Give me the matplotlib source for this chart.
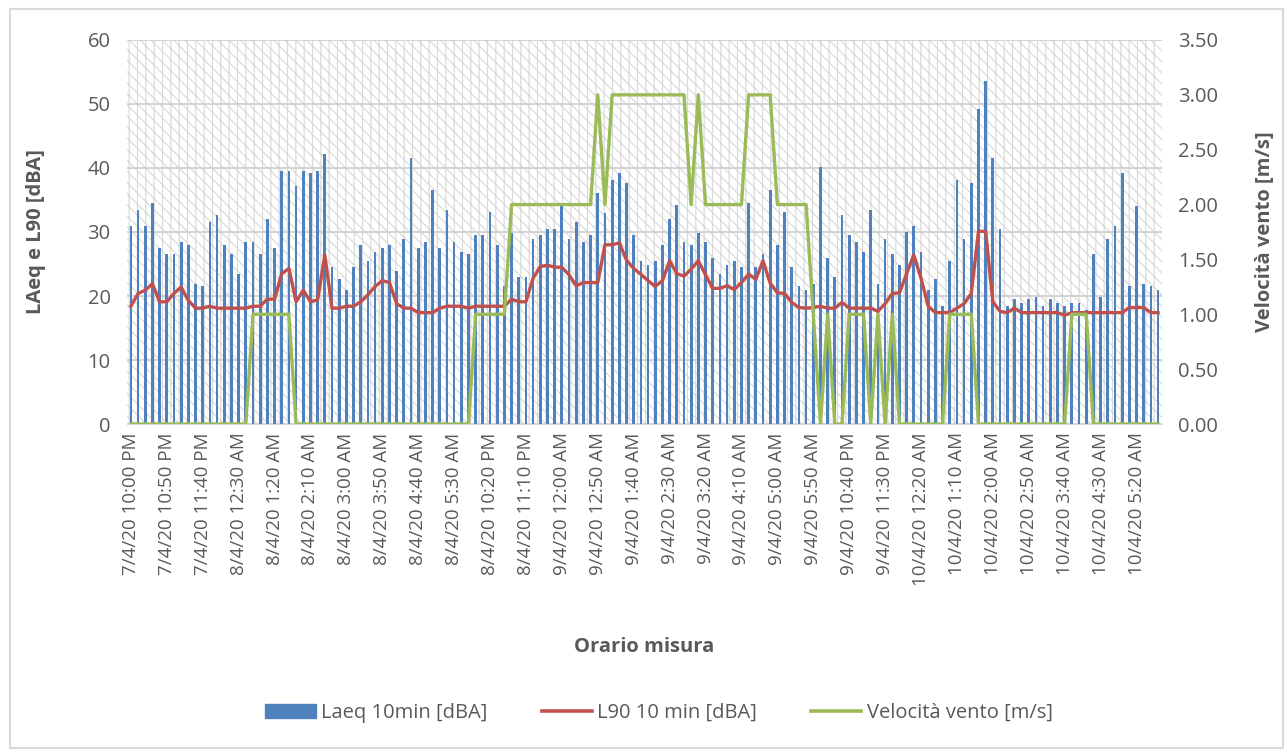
import matplotlib
matplotlib.use('Agg')
import numpy as np
import matplotlib.pyplot as plt
from matplotlib.patches import Rectangle, Patch
from matplotlib.lines import Line2D

# Laeq 10 min [dBA], one value every 10 minutes, three nights (22:00 - 05:50)
laeq = [30.9, 33.5, 30.9, 34.5, 27.5, 26.6, 26.6, 28.5, 27.9, 21.9, 21.5, 31.5, 32.6, 27.9, 26.6, 23.5, 28.5, 28.5, 26.6,
        32.0, 27.5, 39.6, 39.6, 37.2, 39.6, 39.2, 39.6, 42.2, 24.5, 22.6, 20.9, 24.5, 27.9, 25.5, 26.9, 27.5, 27.9, 23.9, 28.9,
        41.6, 27.5, 28.5, 36.6, 27.5, 33.5, 28.5, 26.9, 26.6, 29.5, 29.5, 33.1, 27.9, 21.5, 29.9, 22.9, 22.9, 28.9, 29.5,
        30.5, 30.5, 34.0, 28.9, 31.5, 28.5, 29.5, 36.1, 33.0, 38.1, 39.2, 37.6, 29.5, 25.5, 24.9, 25.5, 27.9, 32.0, 34.2, 28.5,
        27.9, 29.9, 28.5, 25.9, 23.5, 24.9, 25.5, 24.5, 34.6, 24.5, 26.6, 36.6, 27.9, 33.1, 24.5, 21.6, 20.9, 21.9, 40.2,
        25.9, 22.9, 32.6, 29.5, 28.5, 26.9, 33.5, 21.9, 28.9, 26.6, 24.9, 30.0, 30.9, 26.9, 20.9, 22.6, 18.5, 25.5, 38.1, 28.9,
        37.6, 49.2, 53.6, 41.6, 30.5, 18.4, 19.5, 18.9, 19.5, 19.9, 18.4, 19.5, 18.9, 18.4, 18.9, 18.9, 17.8, 26.6, 19.9,
        28.9, 30.9, 39.2, 21.6, 34.1, 21.9, 21.5, 20.9]

# L90 10 min [dBA]
l90 = [18.4, 20.4, 20.9, 21.9, 19.1, 19.1, 20.4, 21.4, 19.3, 18.1, 18.1, 18.4, 18.1, 18.1, 18.1, 18.1, 18.1, 18.4, 18.4,
       19.5, 19.5, 23.5, 24.3, 19.1, 20.9, 19.1, 19.4, 26.4, 18.1, 18.1, 18.4, 18.4, 19.1, 20.2, 21.5, 22.4, 22.1, 18.8, 18.1,
       18.1, 17.4, 17.4, 17.4, 18.1, 18.4, 18.4, 18.4, 18.1, 18.4, 18.4, 18.4, 18.4, 18.4, 19.5, 19.1, 19.1, 22.8, 24.6,
       24.8, 24.5, 24.5, 23.3, 21.6, 22.1, 22.1, 22.1, 28.0, 28.0, 28.3, 25.6, 24.3, 23.4, 22.4, 21.5, 22.4, 25.5, 23.5, 23.1,
       24.2, 25.5, 23.3, 21.2, 21.2, 21.6, 21.0, 22.1, 23.4, 22.6, 25.5, 22.0, 20.5, 20.4, 19.0, 18.2, 18.1, 18.2, 18.4,
       18.1, 18.1, 19.0, 18.1, 18.1, 18.1, 18.1, 17.6, 18.8, 20.4, 20.5, 23.5, 26.4, 22.8, 18.4, 17.4, 17.4, 17.4, 18.1, 18.8,
       20.4, 30.1, 30.1, 19.1, 17.6, 17.4, 18.1, 17.4, 17.4, 17.4, 17.4, 17.4, 17.4, 17.0, 17.4, 17.4, 17.4, 17.4, 17.4,
       17.4, 17.4, 17.4, 18.2, 18.2, 18.2, 17.4, 17.4]

# Velocita vento [m/s]
vento = [0, 0, 0, 0, 0, 0, 0, 0, 0, 0, 0, 0, 0, 0, 0, 0, 0, 1, 1,
         1, 1, 1, 1, 0, 0, 0, 0, 0, 0, 0, 0, 0, 0, 0, 0, 0, 0, 0, 0,
         0, 0, 0, 0, 0, 0, 0, 0, 0, 1, 1, 1, 1, 1, 2, 2, 2, 2, 2,
         2, 2, 2, 2, 2, 2, 2, 3, 2, 3, 3, 3, 3, 3, 3, 3, 3, 3, 3, 3,
         2, 3, 2, 2, 2, 2, 2, 2, 3, 3, 3, 3, 2, 2, 2, 2, 2, 1, 0,
         1, 0, 0, 1, 1, 1, 0, 1, 0, 1, 0, 0, 0, 0, 0, 0, 0, 1, 1, 1,
         1, 0, 0, 0, 0, 0, 0, 0, 0, 0, 0, 0, 0, 0, 1, 1, 1, 0, 0,
         0, 0, 0, 0, 0, 0, 0, 0]

# labels shown on the category axis (every 5th sample)
tick_labels = ['7/4/20 10:00 PM', '7/4/20 10:50 PM', '7/4/20 11:40 PM', '8/4/20 12:30 AM', '8/4/20 1:20 AM',
               '8/4/20 2:10 AM', '8/4/20 3:00 AM', '8/4/20 3:50 AM', '8/4/20 4:40 AM', '8/4/20 5:30 AM',
               '8/4/20 10:20 PM', '8/4/20 11:10 PM', '9/4/20 12:00 AM', '9/4/20 12:50 AM', '9/4/20 1:40 AM',
               '9/4/20 2:30 AM', '9/4/20 3:20 AM', '9/4/20 4:10 AM', '9/4/20 5:00 AM', '9/4/20 5:50 AM',
               '9/4/20 10:40 PM', '9/4/20 11:30 PM', '10/4/20 12:20 AM', '10/4/20 1:10 AM', '10/4/20 2:00 AM',
               '10/4/20 2:50 AM', '10/4/20 3:40 AM', '10/4/20 4:30 AM', '10/4/20 5:20 AM']

blue = '#4f81bd'
red = '#c0504d'
green = '#9bbb59'
grey_txt = '#595959'

plt.rcParams['font.family'] = ['Open Sans', 'DejaVu Sans']
plt.rcParams['hatch.linewidth'] = 0.8

fig = plt.figure(figsize=(12.87, 7.53), dpi=100)
ax = fig.add_axes([0.0989, 0.4369, 0.8037, 0.51])

x = np.arange(len(laeq))

# patterned plot area like the excel one
ax.patch.set_visible(False)
bg = Rectangle((0, 0), 1, 1, transform=ax.transAxes, facecolor='white', edgecolor='#d8d8d8',
               hatch='||\\\\\\', linewidth=0, zorder=-10)
ax.add_patch(bg)

ax.bar(x, laeq, width=0.38, color=blue, zorder=2)
ax.plot(x, l90, color=red, lw=2.4, zorder=3, solid_joinstyle='round')
ax.set_xlim(-0.5, len(laeq) - 0.5)
ax.set_ylim(0, 60)
ax.set_yticks(range(0, 61, 10))
ax.grid(axis='y', color='#d0d0d0', lw=1.3, zorder=1)
ax.set_axisbelow(True)

ax.set_xticks(x[::5])
ax.set_xticklabels(tick_labels, rotation=90, fontsize=13.5, color=grey_txt)
ax.tick_params(axis='both', length=0, pad=6)
ax.tick_params(axis='y', labelsize=14.5, labelcolor=grey_txt, pad=12)
for s in ['top', 'right', 'left']:
    ax.spines[s].set_visible(False)
ax.spines['bottom'].set_color('#d9d9d9')

ax.set_ylabel('LAeq e L90 [dBA]', fontsize=14.5, fontweight='bold', color=grey_txt)
ax.yaxis.set_label_coords(-0.079, 0.5)
ax.set_xlabel('Orario misura', fontsize=14.5, fontweight='bold', color=grey_txt)
ax.xaxis.set_label_coords(0.5, -0.555)

ax2 = ax.twinx()
ax2.plot(x, vento, color=green, lw=2.4, zorder=4)
ax2.set_ylim(0, 3.5)
ax2.set_yticks(np.arange(0, 3.51, 0.5))
ax2.set_yticklabels([f'{v:.2f}' for v in np.arange(0, 3.51, 0.5)])
ax2.tick_params(axis='y', length=0, labelsize=14.5, labelcolor=grey_txt, pad=12)
for s in ['top', 'right', 'left', 'bottom']:
    ax2.spines[s].set_visible(False)
ax2.set_ylabel('Velocità vento [m/s]', fontsize=14.5, fontweight='bold', color=grey_txt)
ax2.yaxis.set_label_coords(1.09, 0.5)

handles = [Patch(color=blue), Line2D([], [], color=red, lw=2.6), Line2D([], [], color=green, lw=2.6)]
fig.legend(handles, ['Laeq 10min [dBA]', 'L90 10 min [dBA]', 'Velocità vento [m/s]'],
           loc='center', bbox_to_anchor=(0.512, 0.053), ncol=3, frameon=False,
           fontsize=14.5, labelcolor=grey_txt, handlelength=2.5, columnspacing=2.7, handletextpad=0.25)

# chart border
fig.patches.append(Rectangle((0.008, 0.006), 0.989, 0.982, transform=fig.transFigure,
                             fill=False, edgecolor='#d9d9d9', lw=1.5))

fig.savefig('out.png', dpi=100)
